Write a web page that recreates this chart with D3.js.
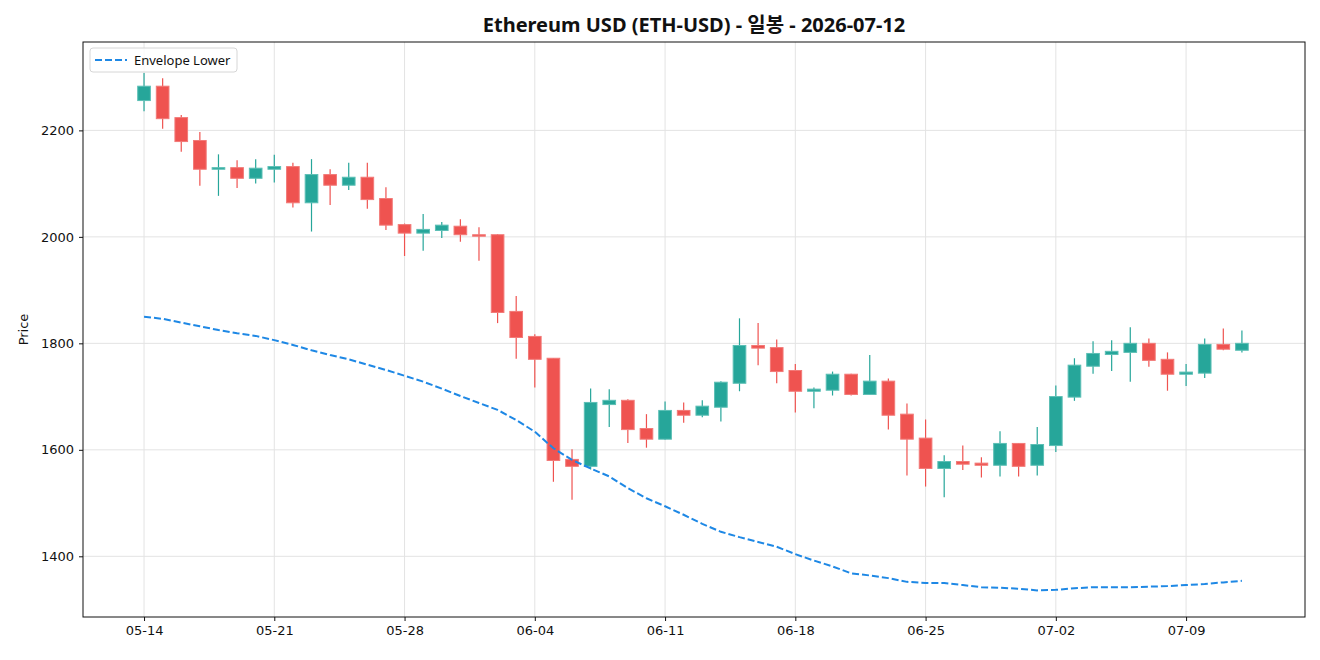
<!DOCTYPE html>
<html>
<head>
<meta charset="utf-8">
<script src="https://cdn.jsdelivr.net/npm/d3@7"></script>
<style>
  body { margin: 0; background: #fff; }
  svg { display: block; font-family: "DejaVu Sans", "Noto Sans CJK KR", sans-serif; }
</style>
</head>
<body>
<div id="chart"></div>
<script>
// daily candles, 05-14 .. 07-12
var dates = ["05-14","05-15","05-16","05-17","05-18","05-19","05-20","05-21","05-22","05-23",
             "05-24","05-25","05-26","05-27","05-28","05-29","05-30","05-31","06-01","06-02",
             "06-03","06-04","06-05","06-06","06-07","06-08","06-09","06-10","06-11","06-12",
             "06-13","06-14","06-15","06-16","06-17","06-18","06-19","06-20","06-21","06-22",
             "06-23","06-24","06-25","06-26","06-27","06-28","06-29","06-30","07-01","07-02",
             "07-03","07-04","07-05","07-06","07-07","07-08","07-09","07-10","07-11","07-12"];
var open  = [2256,2283,2224,2181,2127,2130,2110,2127,2132,2064,2117,2097,2112,2072,2023,2007,2012,2020,2004,2004,
             1860,1813,1772,1582,1569,1685,1693,1640,1620,1674,1665,1680,1725,1796,1792,1749,1710,1712,1742,1704,
             1729,1667,1622,1565,1578,1575,1571,1612,1571,1608,1699,1757,1779,1783,1800,1770,1742,1744,1798,1787];
var high  = [2308,2298,2229,2197,2155,2144,2146,2154,2139,2146,2127,2139,2139,2093,2025,2043,2028,2033,2018,2005,
             1889,1817,1772,1601,1715,1714,1695,1667,1691,1689,1693,1729,1847,1838,1807,1761,1717,1747,1743,1778,
             1734,1687,1657,1590,1608,1586,1635,1613,1643,1721,1772,1804,1806,1830,1809,1783,1761,1809,1828,1824];
var low   = [2236,2203,2160,2096,2077,2092,2100,2102,2055,2010,2060,2088,2053,2013,1964,1974,1998,1991,1955,1838,
             1771,1717,1540,1506,1563,1643,1613,1604,1619,1651,1661,1653,1710,1759,1725,1670,1678,1702,1702,1704,
             1638,1552,1531,1511,1562,1548,1550,1550,1552,1596,1692,1743,1748,1728,1756,1711,1720,1735,1787,1783];
var close = [2283,2222,2179,2127,2130,2110,2129,2132,2064,2117,2097,2112,2070,2022,2007,2014,2022,2004,2002,1858,
             1811,1770,1580,1569,1689,1693,1638,1620,1674,1665,1682,1727,1796,1791,1747,1710,1714,1742,1704,1729,
             1665,1620,1565,1578,1573,1571,1612,1569,1610,1700,1759,1781,1785,1800,1768,1742,1746,1798,1789,1800];
var envelopeLower = [1850,1846,1839,1832,1825,1819,1814,1806,1797,1787,1778,1770,1760,1750,1739,1728,1715,1701,1688,1675,
                     1656,1634,1603,1581,1565,1550,1528,1509,1494,1478,1461,1446,1436,1427,1418,1404,1392,1381,1368,1364,
                     1359,1352,1350,1350,1346,1342,1341,1339,1336,1337,1340,1342,1342,1342,1343,1344,1346,1348,1351,1354];
var xTickIdx = [0,7,14,21,28,35,42,49,56];
var yTicks = [1400,1600,1800,2000,2200];

function drawChart() {
    var w = 1320, h = 660;
    var mLeft = 83, mRight = 1305, mTop = 42, mBottom = 617;
    var upColor = "#26a69a", downColor = "#ef5350";

    var svg = d3.select("#chart").append("svg")
        .attr("width", w).attr("height", h);

    var x = d3.scaleLinear().domain([-3.28, 62.39]).range([mLeft, mRight]);
    var y = d3.scaleLinear().domain([1286, 2366]).range([mBottom, mTop]);

    // grid
    svg.append("g").selectAll("line").data(yTicks).enter().append("line")
        .attr("x1", mLeft).attr("x2", mRight)
        .attr("y1", function(d) { return y(d); }).attr("y2", function(d) { return y(d); })
        .attr("stroke", "#e3e3e3").attr("stroke-width", 1);
    svg.append("g").selectAll("line").data(xTickIdx).enter().append("line")
        .attr("y1", mTop).attr("y2", mBottom)
        .attr("x1", function(d) { return x(d); }).attr("x2", function(d) { return x(d); })
        .attr("stroke", "#e3e3e3").attr("stroke-width", 1);

    // candles
    var idx = d3.range(dates.length);
    var bw = (x(1) - x(0)) * 0.68;
    var candles = svg.append("g");
    candles.selectAll("line").data(idx).enter().append("line")
        .attr("x1", function(i) { return x(i); }).attr("x2", function(i) { return x(i); })
        .attr("y1", function(i) { return y(high[i]); }).attr("y2", function(i) { return y(low[i]); })
        .attr("stroke", function(i) { return close[i] >= open[i] ? upColor : downColor; })
        .attr("stroke-width", 1.2);
    candles.selectAll("rect").data(idx).enter().append("rect")
        .attr("x", function(i) { return x(i) - bw / 2; })
        .attr("width", bw)
        .attr("y", function(i) { return y(Math.max(open[i], close[i])); })
        .attr("height", function(i) { return Math.max(1.5, Math.abs(y(open[i]) - y(close[i]))); })
        .attr("fill", function(i) { return close[i] >= open[i] ? upColor : downColor; })
        .attr("stroke", function(i) { return close[i] >= open[i] ? "#5cbfb5" : "#f27a78"; })
        .attr("stroke-width", 1);

    // envelope lower
    var line = d3.line()
        .x(function(d, i) { return x(i); })
        .y(function(d) { return y(d); });
    svg.append("path").datum(envelopeLower)
        .attr("d", line)
        .attr("fill", "none")
        .attr("stroke", "#1e88e5")
        .attr("stroke-width", 2)
        .attr("stroke-dasharray", "7,3");

    // axes
    var xAxis = d3.axisBottom(x).tickValues(xTickIdx)
        .tickFormat(function(d) { return dates[d]; }).tickSizeOuter(0).tickSize(4).tickPadding(5);
    var yAxis = d3.axisLeft(y).tickValues(yTicks).tickFormat(d3.format("d"))
        .tickSizeOuter(0).tickSize(4).tickPadding(5);

    var gx = svg.append("g").attr("transform", "translate(0," + mBottom + ")").call(xAxis);
    var gy = svg.append("g").attr("transform", "translate(" + mLeft + ",0)").call(yAxis);
    [gx, gy].forEach(function(g) {
        g.select(".domain").remove();
        g.selectAll("text").attr("font-size", 13).attr("fill", "#111")
            .attr("font-family", "'DejaVu Sans', sans-serif");
        g.selectAll("line").attr("stroke", "#111");
    });

    // frame
    svg.append("rect")
        .attr("x", mLeft).attr("y", mTop)
        .attr("width", mRight - mLeft).attr("height", mBottom - mTop)
        .attr("fill", "none").attr("stroke", "#111").attr("stroke-width", 1);

    // title, fitted to the reference width
    var title = svg.append("text")
        .attr("x", (mLeft + mRight) / 2).attr("y", 32)
        .attr("text-anchor", "middle")
        .attr("font-family", "'Noto Sans', 'Noto Sans CJK KR', sans-serif")
        .attr("font-size", 18).attr("font-weight", "bold").attr("fill", "#111")
        .text("Ethereum USD (ETH-USD) - 일봉 - 2026-07-12");
    var tl = title.node().getComputedTextLength();
    if (tl > 0) title.attr("font-size", Math.min(20, Math.max(16, 18 * 438 / tl)));

    svg.append("text")
        .attr("transform", "translate(28," + ((mTop + mBottom) / 2) + ") rotate(-90)")
        .attr("text-anchor", "middle")
        .attr("font-size", 13).attr("fill", "#111")
        .text("Price");

    // legend
    var lg = svg.append("g").attr("transform", "translate(90,48)");
    lg.append("rect")
        .attr("width", 147).attr("height", 24).attr("rx", 3)
        .attr("fill", "#fff").attr("fill-opacity", 0.8)
        .attr("stroke", "#d6d6d6");
    lg.append("line")
        .attr("x1", 5).attr("x2", 37).attr("y1", 12).attr("y2", 12)
        .attr("stroke", "#1e88e5").attr("stroke-width", 2)
        .attr("stroke-dasharray", "7,3");
    lg.append("text")
        .attr("x", 44).attr("y", 16.5)
        .attr("font-family", "'Noto Sans', sans-serif")
        .attr("font-size", 13).attr("fill", "#111")
        .text("Envelope Lower");
}

drawChart();
</script>
</body>
</html>
